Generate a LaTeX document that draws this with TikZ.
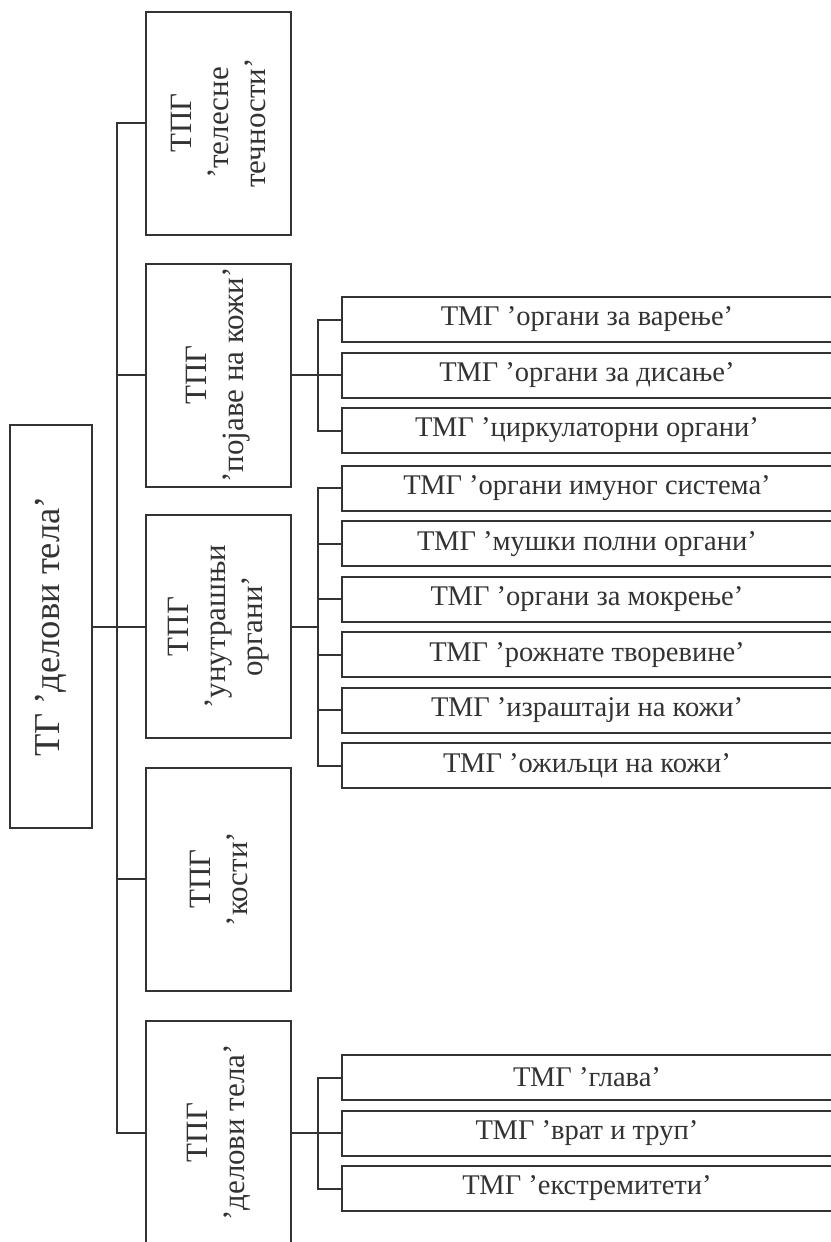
\documentclass[tikz,border=0pt]{standalone}
\usepackage{fontspec}
\setmainfont{Liberation Serif}
\definecolor{ink}{HTML}{333333}
\begin{document}
\begin{tikzpicture}[x=1pt,y=-1pt,
  box/.style={draw=ink, line width=2pt, inner sep=0pt, outer sep=0pt, fill=white, text=ink},
  rootbox/.style={box, minimum width=82pt, minimum height=403pt},
  groupbox/.style={box, minimum width=145pt, minimum height=223pt},
  leafbox/.style={box, minimum width=490pt, minimum height=45pt, font=\fontsize{28.5}{33}\selectfont},
  vlabel/.style={rotate=90, align=center, text=ink, inner sep=0pt},
  grouptext/.style={vlabel, font=\fontsize{31}{37}\selectfont},
  roottext/.style={vlabel, font=\fontsize{36.5}{42}\selectfont},
  wire/.style={draw=ink, line width=2pt, line join=miter}]
\useasboundingbox (0,0) rectangle (830,1242);

% root
\node[rootbox] (root) at (51,626.5) {};
\node[roottext] (roott) at (root.center) {ТГ ’делови тела’};

% second level
\node[groupbox] (b1) at (218.5,123) {};
\node[groupbox] (b2) at (218.5,375) {};
\node[groupbox] (b3) at (218.5,626.5) {};
\node[groupbox] (b4) at (218.5,879) {};
\node[groupbox] (b5) at (218.5,1132.5) {};
\node[grouptext] (b1t) at (b1.center) {ТПГ\\’телесне\\течности’};
\node[grouptext] (b2t) at (b2.center) {ТПГ\\’појаве на кожи’};
\node[grouptext] (b3t) at (b3.center) {ТПГ\\’унутрашњи\\органи’};
\node[grouptext] (b4t) at (b4.center) {ТПГ\\’кости’};
\node[grouptext] (b5t) at (b5.center) {ТПГ\\’делови тела’};

% trunk positions
\coordinate (trunk) at (117,0);
\coordinate (sA) at (318,0);

% third level
\node[leafbox] (a1) at (587,319.5) {ТМГ ’органи за варење’};
\node[leafbox] (a2) at (587,375)   {ТМГ ’органи за дисање’};
\node[leafbox] (a3) at (587,430.5) {ТМГ ’циркулаторни органи’};

\node[leafbox] (c1) at (587,488.25) {ТМГ ’органи имуног система’};
\node[leafbox] (c2) at (587,543.75) {ТМГ ’мушки полни органи’};
\node[leafbox] (c3) at (587,599.25) {ТМГ ’органи за мокрење’};
\node[leafbox] (c4) at (587,654.75) {ТМГ ’рожнате творевине’};
\node[leafbox] (c5) at (587,710.25) {ТМГ ’израштаји на кожи’};
\node[leafbox] (c6) at (587,765.75) {ТМГ ’ожиљци на кожи’};

\node[leafbox] (e1) at (587,1077.5) {ТМГ ’глава’};
\node[leafbox] (e2) at (587,1133)   {ТМГ ’врат и труп’};
\node[leafbox] (e3) at (587,1188.5) {ТМГ ’екстремитети’};

% main trunk
\draw[wire] (root.east) -- (b3.west);
\draw[wire] (b1.west) -- (b1.west -| trunk) -- (b5.west -| trunk) -- (b5.west);
\draw[wire] (b2.west) -- (b2.west -| trunk);
\draw[wire] (b4.west) -- (b4.west -| trunk);

% sub-trunks
\draw[wire] (b2.east) -- (b2.east -| sA);
\draw[wire] (a1.west) -- (a1.west -| sA) -- (a3.west -| sA) -- (a3.west);
\draw[wire] (a2.west) -- (a2.west -| sA);

\draw[wire] (b3.east) -- (b3.east -| sA);
\draw[wire] (c1.west) -- (c1.west -| sA) -- (c6.west -| sA) -- (c6.west);
\foreach \n in {c2,c3,c4,c5} \draw[wire] (\n.west) -- (\n.west -| sA);

\draw[wire] (b5.east) -- (b5.east -| sA);
\draw[wire] (e1.west) -- (e1.west -| sA) -- (e3.west -| sA) -- (e3.west);
\draw[wire] (e2.west) -- (e2.west -| sA);
\end{tikzpicture}
\end{document}
